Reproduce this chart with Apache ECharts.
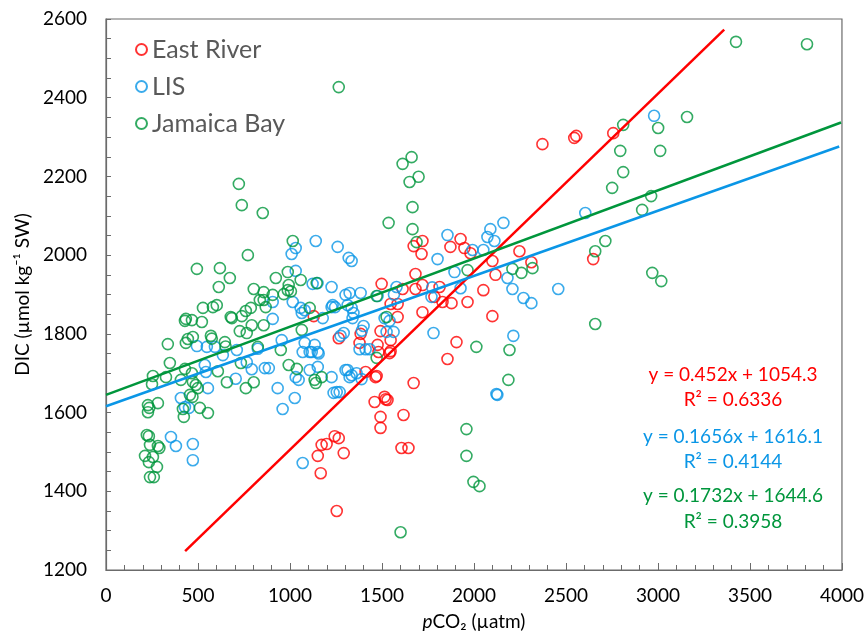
<!DOCTYPE html>
<html>
<head>
<meta charset="utf-8">
<script src="https://cdn.jsdelivr.net/npm/echarts@6/dist/echarts.min.js"></script>
<style>html,body{margin:0;padding:0;background:#fff}#c{width:867px;height:636px}</style>
</head>
<body>
<div id="c"></div>
<script>
const seriesNames = ['East River', 'LIS', 'Jamaica Bay'];
const xTicks = [0, 500, 1000, 1500, 2000, 2500, 3000, 3500, 4000];
const yTicks = [1200, 1400, 1600, 1800, 2000, 2200, 2400, 2600];

const eastRiver = [
[2556,2303],[2545,2298],[2372,2282],[2757,2310],[2247,2010],[2312,1982],[2648,1990],
[1720,2036],[1672,2023],[1715,2003],[1872,2021],[1927,2041],[1948,2018],[1981,2005],
[2100,1985],[2117,1950],[2051,1911],[2100,1845],[1965,1881],[1905,1779],[1856,1736],[1672,1675],
[1682,1952],[1682,1914],[1720,1924],[1813,1919],[1785,1894],[1829,1881],[1878,1878],[1720,1855],
[1612,1914],[1585,1876],[1547,1876],[1498,1927],[1585,1843],[1492,1807],[1547,1784],[1384,1800],
[1265,1789],[1378,1777],[1476,1772],[1481,1754],[1547,1756],[1541,1751],[1465,1690],[1411,1703],
[1129,1845],[1514,1640],[1471,1693],[1460,1627],[1520,1634],[1530,1632],[1617,1594],[1492,1589],
[1492,1561],[1606,1510],[1644,1510],[1243,1540],[1265,1535],[1172,1518],[1199,1520],[1151,1490],
[1292,1497],[1167,1446],[1254,1350]
];

const lis = [
[1140,2036],[1259,2021],[1031,2018],[1009,2003],[1031,1960],[1123,1927],[1150,1929],[1226,1919],[1015,1881],[1058,1866],[1064,1853],[906,1881],[1226,1868],[1245,1868],
[494,1769],[548,1767],[592,1767],[635,1746],[537,1721],[543,1703],[554,1662],[407,1637],[429,1614],[451,1612],[353,1538],[380,1515],[472,1520],[472,1479],
[711,1759],[765,1728],[792,1710],[705,1686],[825,1762],[863,1713],[885,1713],[933,1662],[1026,1637],[960,1609],[906,1838],[955,1784],
[1080,1777],[1069,1754],[1107,1754],[1151,1754],[1156,1750],[1134,1772],[1151,1716],[1031,1690],[1047,1683],[1107,1708],[1226,1690],[1237,1650],[1270,1652],[1302,1708],[1324,1690],[1069,1472],
[1319,1993],[1335,1985],[1802,1990],[1856,2051],[2160,2082],[2089,2066],[2073,2046],[2111,2036],[1992,2013],[2051,2013],[1894,1957],[1927,1916],[2182,1942],[2209,1914],[2269,1891],[2312,1878],[2214,1795],[2127,1645],[1780,1802],[1769,1894],[1773,1918],
[1579,1919],[1565,1900],[1476,1896],[1384,1904],[1324,1904],[1313,1873],[1335,1866],[1345,1853],[1340,1840],[1232,1873],[1178,1840],[1080,1860],
[1400,1820],[1390,1808],[1514,1840],[1541,1833],[1525,1805],[1563,1805],[1292,1802],[1275,1795],[1378,1761],[1411,1761],[1433,1761],[1118,1754],
[1313,1708],[1335,1695],[1389,1685],[1254,1652],[1362,1700],
[2979,2354],[2605,2107],[2458,1914],[1302,1899],[2122,1647]
];

const jamaicaBay = [
[722,2181],[738,2127],[852,2107],[771,2000],[1015,2036],[494,1965],[619,1967],[673,1942],[613,1919],[923,1942],[988,1957],[1058,1937],[993,1924],[988,1911],[1005,1908],[966,1901],[803,1914],[857,1906],[906,1899],[836,1886],[857,1886],[868,1868],[787,1866],[760,1858],[738,1845],[678,1843],[602,1873],[581,1868],[527,1866],[434,1838],[467,1835],[1107,1866],[1145,1929],
[429,1833],[521,1830],[684,1840],[727,1807],[765,1802],[792,1822],[857,1822],[646,1779],[650,1768],[570,1795],[575,1788],[472,1792],[445,1787],[434,1777],[336,1774],[347,1726],[255,1693],[250,1672],[326,1690],[407,1683],[429,1711],[467,1700],[472,1678],[488,1670],[499,1662],[456,1645],[470,1640],[418,1609],[423,1589],[510,1612],[554,1599],[608,1705],[657,1677],[760,1662],[803,1677],[733,1726],[825,1767],[950,1759],[993,1721],[1037,1711],[1140,1675],[1172,1690],[1064,1810],
[228,1619],[235,1612],[228,1601],[282,1624],[222,1543],[233,1540],[239,1518],[282,1515],[290,1510],[212,1490],[233,1474],[255,1487],[277,1462],[239,1436],[260,1436],
[1661,2249],[1612,2232],[1699,2199],[1650,2186],[1666,2122],[1536,2082],[1666,2066],[1688,2033],[1965,1962],[2209,1965],[2258,1955],[2318,1967],[1471,1896],[1525,1843],[2013,1767],[2193,1759],[2187,1683],[1471,1739],[1134,1683],
[1959,1558],[1959,1490],[1997,1424],[2030,1413],[1601,1296],
[2811,2331],[3001,2323],[3158,2351],[2795,2265],[3012,2265],[2811,2211],[2751,2171],[2963,2150],[2914,2115],[2714,2036],[2659,2010],[2969,1955],[3018,1934],[2659,1825],
[3424,2542],[3810,2536],[1265,2427]
];

const eastRiverFit = [[430,1248],[3360,2573]];
const lisFit = [[0,1616],[3985,2276]];
const jamaicaFit = [[0,1645],[3995,2337]];

const eqTexts = [
  ['y = 0.452x + 1054.3', 'R\u00B2 = 0.6336'],
  ['y = 0.1656x + 1616.1', 'R\u00B2 = 0.4144'],
  ['y = 0.1732x + 1644.6', 'R\u00B2 = 0.3958']
];

const colors = ['#FF0000', '#0A96E6', '#00963C'];
const FONT = 'Lato, "Open Sans", "Noto Sans", sans-serif';

const chart = echarts.init(document.getElementById('c'), null, {renderer: 'canvas'});

function scatter(name, data, color) {
  return {
    name: name, type: 'scatter', data: data, symbol: 'circle', symbolSize: 11,
    itemStyle: {color: 'rgba(255,255,255,0)', borderColor: color, borderWidth: 1.6},
    emphasis: {disabled: true}, z: 2
  };
}
function fitLine(data, color) {
  return {
    type: 'line', data: data, symbol: 'none', silent: true,
    lineStyle: {color: color, width: 2.5}, z: 3
  };
}

const eqGraphics = [];
const eqY = [[375, 400], [437, 462], [496, 522]];
eqTexts.forEach((pair, i) => {
  pair.forEach((t, j) => {
    eqGraphics.push({
      type: 'text', x: 733, y: eqY[i][j],
      style: {text: t, fill: colors[i], font: '19px ' + FONT, align: 'center', verticalAlign: 'middle'}
    });
  });
});

chart.setOption({
  animation: false,
  backgroundColor: '#fff',
  grid: {left: 106, right: 24, top: 19, bottom: 66, show: true, borderColor: '#6b6b6b', borderWidth: 1.2, backgroundColor: 'transparent'},
  legend: {
    data: seriesNames, orient: 'vertical', left: 130, top: 32, itemGap: 12,
    itemWidth: 11, itemHeight: 11,
    textStyle: {fontSize: 25, color: '#595959', fontFamily: FONT}
  },
  xAxis: {
    type: 'value', min: xTicks[0], max: xTicks[xTicks.length - 1], interval: 500,
    name: '{i|p}CO\u2082 (\u00B5atm)', nameLocation: 'middle', nameGap: 42,
    nameTextStyle: {fontSize: 19, color: '#000', fontFamily: FONT, rich: {i: {fontStyle: 'italic', fontSize: 19, color: '#000', fontFamily: FONT}}},
    axisLine: {lineStyle: {color: '#6b6b6b', width: 1.2}},
    axisTick: {inside: true, length: 7, lineStyle: {color: '#6b6b6b'}},
    minorTick: {show: true, splitNumber: 5, length: 5, lineStyle: {color: '#6b6b6b'}},
    splitLine: {show: false},
    axisLabel: {fontSize: 19, color: '#000', fontFamily: FONT, margin: 16, formatter: v => String(v)}
  },
  yAxis: {
    type: 'value', min: yTicks[0], max: yTicks[yTicks.length - 1], interval: 200,
    name: 'DIC (\u00B5mol kg\u207B\u00B9 SW)', nameLocation: 'middle', nameGap: 72, nameRotate: 90,
    nameTextStyle: {fontSize: 19, color: '#000', fontFamily: FONT},
    axisLine: {show: true, lineStyle: {color: '#6b6b6b', width: 1.2}},
    axisTick: {show: true, inside: true, length: 5, lineStyle: {color: '#6b6b6b'}},
    minorTick: {show: true, splitNumber: 4, length: 5, lineStyle: {color: '#6b6b6b'}},
    splitLine: {show: false},
    axisLabel: {fontSize: 19, color: '#000', fontFamily: FONT, margin: 19, formatter: v => String(v)}
  },
  series: [
    scatter(seriesNames[0], eastRiver, colors[0]),
    scatter(seriesNames[1], lis, colors[1]),
    scatter(seriesNames[2], jamaicaBay, colors[2]),
    fitLine(eastRiverFit, colors[0]),
    fitLine(lisFit, colors[1]),
    fitLine(jamaicaFit, colors[2])
  ],
  graphic: eqGraphics
});
</script>
</body>
</html>
